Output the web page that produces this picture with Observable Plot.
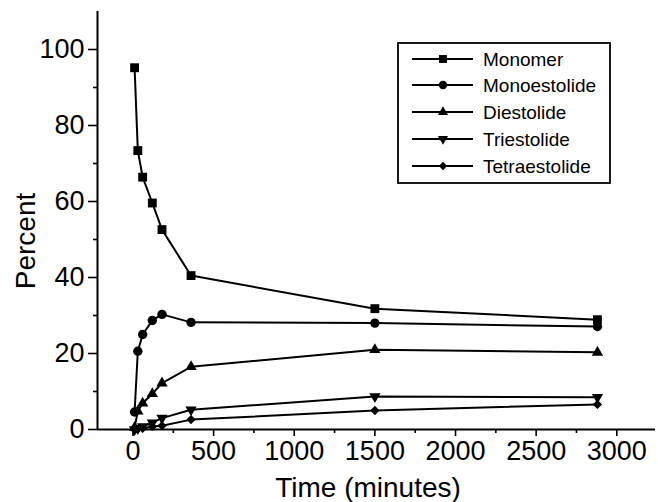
<!DOCTYPE html>
<html>
<head>
<meta charset="utf-8">
<script src="https://cdn.jsdelivr.net/npm/d3@7"></script>
<script src="https://cdn.jsdelivr.net/npm/@observablehq/plot@0.6"></script>
<style>
  html, body { margin: 0; padding: 0; background: #fff; }
  #chart { width: 658px; height: 502px; }
</style>
</head>
<body>
<div id="chart"></div>
<script>
// ---- data ----
const times = [10, 30, 60, 120, 180, 360, 1500, 2880];
const seriesNames = ["Monomer", "Monoestolide", "Diestolide", "Triestolide", "Tetraestolide"];
const monomer       = [95.2, 73.4, 66.4, 59.6, 52.6, 40.5, 31.8, 28.9];
const monoestolide  = [4.6, 20.6, 25.0, 28.7, 30.3, 28.2, 28.0, 27.1];
const diestolide    = [0.5, 4.8, 6.9, 9.4, 12.2, 16.5, 21.0, 20.3];
const triestolide   = [0.0, 0.3, 0.8, 1.8, 3.0, 5.2, 8.7, 8.5];
const tetraestolide = [0.0, 0.1, 0.3, 0.8, 1.0, 2.6, 5.0, 6.6];
const xTicks = [0, 500, 1000, 1500, 2000, 2500, 3000];
const yTicks = [0, 20, 40, 60, 80, 100];
const xTitle = "Time (minutes)";
const yTitle = "Percent";

const values = [monomer, monoestolide, diestolide, triestolide, tetraestolide];

const narrow = '"Liberation Sans Narrow", "Arial Narrow", "Liberation Sans", Arial, sans-serif';
const regular = '"Liberation Sans", Arial, Helvetica, sans-serif';

// downward triangle symbol
const triangleDown = {
  draw(context, size) {
    const y = -Math.sqrt(size / (Math.sqrt(3) * 3));
    context.moveTo(0, -y * 2);
    context.lineTo(-Math.sqrt(3) * y, y);
    context.lineTo(Math.sqrt(3) * y, y);
    context.closePath();
  }
};
const symbols = [d3.symbolSquare, d3.symbolCircle, d3.symbolTriangle, triangleDown, d3.symbolDiamond2];
const radii = [5, 4.7, 4.2, 4.2, 4.2];

const table = [];
seriesNames.forEach((s, i) => {
  times.forEach((t, j) => table.push({series: s, time: t, value: values[i][j]}));
});

const minorX = d3.range(250, 3240, 500);
const minorY = d3.range(10, 110, 20);

const marks = [
  Plot.ruleY([0], {stroke: "black", strokeWidth: 2}),
  Plot.ruleX([-220], {stroke: "black", strokeWidth: 2}),
  Plot.axisX({ticks: xTicks, tickSize: 7, tickPadding: 4, fontSize: 27, tickFormat: d => String(d), label: null, strokeWidth: 1.6}),
  Plot.axisX({ticks: minorX, tickSize: 4, tickFormat: () => "", label: null, strokeWidth: 1.6}),
  Plot.axisY({ticks: yTicks, tickSize: 9, tickPadding: 4, fontSize: 27, tickFormat: d => String(d), label: null, strokeWidth: 1.6}),
  Plot.axisY({ticks: minorY, tickSize: 4, tickFormat: () => "", label: null, strokeWidth: 1.6}),
  Plot.line(table, {x: "time", y: "value", z: "series", stroke: "black", strokeWidth: 2})
];
seriesNames.forEach((s, i) => {
  marks.push(Plot.dot(table.filter(d => d.series === s), {
    x: "time", y: "value", symbol: symbols[i], r: radii[i], fill: "black", stroke: "none"
  }));
});

const svg = Plot.plot({
  width: 658,
  height: 502,
  marginLeft: 97,
  marginRight: 3,
  marginTop: 11,
  marginBottom: 73,
  x: {domain: [-220, 3240]},
  y: {domain: [0, 110]},
  style: {fontFamily: narrow, color: "black", background: "white", overflow: "visible"},
  marks
});

// axis titles
const s = d3.select(svg);
s.append("text")
  .attr("x", 368).attr("y", 497)
  .attr("text-anchor", "middle")
  .attr("font-family", narrow)
  .attr("font-size", 28)
  .attr("fill", "black")
  .text(xTitle);
s.append("text")
  .attr("transform", "translate(35,241) rotate(-90)")
  .attr("text-anchor", "middle")
  .attr("font-family", narrow)
  .attr("font-size", 28)
  .attr("fill", "black")
  .text(yTitle);

// legend
const lg = s.append("g");
lg.append("rect")
  .attr("x", 398).attr("y", 43).attr("width", 212).attr("height", 140)
  .attr("fill", "white").attr("stroke", "black").attr("stroke-width", 1.8);
const rowY = [59, 85, 112, 139, 166];
seriesNames.forEach((name, i) => {
  const y = rowY[i];
  lg.append("line").attr("x1", 412).attr("x2", 473).attr("y1", y).attr("y2", y)
    .attr("stroke", "black").attr("stroke-width", 2);
  lg.append("path")
    .attr("transform", `translate(443,${y})`)
    .attr("d", d3.symbol(symbols[i], Math.PI * radii[i] * radii[i] * 0.8)())
    .attr("fill", "black");
  lg.append("text").attr("x", 483).attr("y", y + 7)
    .attr("text-anchor", "start")
    .attr("font-family", regular)
    .attr("font-size", 19).attr("fill", "black").text(name);
});

document.getElementById("chart").appendChild(svg);
</script>
</body>
</html>
